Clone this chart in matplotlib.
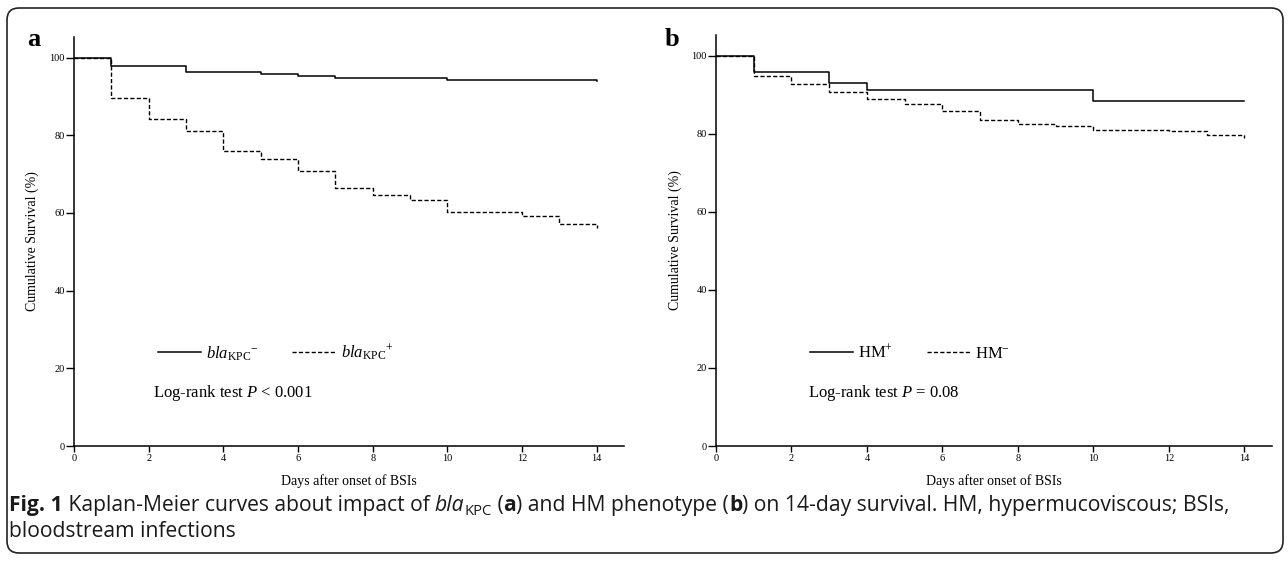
import matplotlib
matplotlib.use('Agg')
import matplotlib.pyplot as plt
from matplotlib.patches import FancyBboxPatch
from matplotlib.transforms import IdentityTransform
from matplotlib.font_manager import FontProperties

# survival steps (day the step starts, cumulative survival %)
kpc_neg_days = [0, 1, 3, 5, 6, 7, 10, 14]
kpc_neg_surv = [100, 97.9, 96.4, 95.9, 95.3, 94.8, 94.3, 93.9]
kpc_pos_days = [0, 1, 2, 3, 4, 5, 6, 7, 8, 9, 10, 12, 13, 14]
kpc_pos_surv = [100, 89.5, 84.3, 81.1, 76.0, 73.9, 70.8, 66.5, 64.6, 63.4, 60.3, 59.1, 57.1, 56.1]

hm_pos_days = [0, 1, 3, 4, 10, 14]
hm_pos_surv = [100, 95.7, 92.9, 91.3, 88.4, 88.4]
hm_neg_days = [0, 1, 2, 3, 4, 5, 6, 7, 8, 9, 10, 12, 13, 14]
hm_neg_surv = [100, 94.9, 92.7, 90.8, 89.0, 87.6, 85.8, 83.4, 82.5, 82.1, 81.0, 80.6, 79.7, 79.0]

x_ticks = [0, 2, 4, 6, 8, 10, 12, 14]
y_ticks = [0, 20, 40, 60, 80, 100]

plt.rcParams['font.family'] = 'Liberation Serif'
plt.rcParams['mathtext.fontset'] = 'custom'
plt.rcParams['mathtext.rm'] = 'Liberation Serif'
plt.rcParams['mathtext.it'] = 'Liberation Serif:italic'
plt.rcParams['mathtext.bf'] = 'Liberation Serif:bold'

fig = plt.figure(figsize=(12.88, 5.61), dpi=100)
W, H = 1288, 561

def px_axes(x0, x1, ytop, ybot):
    return fig.add_axes([x0 / W, (H - ybot) / H, (x1 - x0) / W, (ybot - ytop) / H])

ax1 = px_axes(74, 624, 37, 446)
ax2 = px_axes(716, 1272, 35, 446)

dash = (0, (3, 1.6))
panels = [
    (ax1, 'a', kpc_neg_days, kpc_neg_surv, kpc_pos_days, kpc_pos_surv,
     r'$\mathit{bla}_{\mathrm{KPC}}{}^{-}$', r'$\mathit{bla}_{\mathrm{KPC}}{}^{+}$',
     r'Log-rank test $P$ < 0.001', 0.153, 0.144, -0.063, (-0.073, 0.993)),
    (ax2, 'b', hm_pos_days, hm_pos_surv, hm_neg_days, hm_neg_surv,
     r'HM$^{+}$', r'HM$^{-}$',
     r'Log-rank test $P$ = 0.08', 0.169, 0.165, -0.061, (-0.079, 0.988)),
]

for ax, letter, d1, s1, d2, s2, lab1, lab2, test, lx, tx, ylx, lpos in panels:
    ax.step(d1, s1, where='post', color='black', lw=1.1, label=lab1)
    ax.step(d2, s2, where='post', color='black', lw=1.0, linestyle=dash, label=lab2)
    ax.set_xlim(0, 14.73)
    ax.set_ylim(0, 105.3)
    ax.set_xticks(x_ticks)
    ax.set_yticks(y_ticks)
    for side in ['top', 'right']:
        ax.spines[side].set_visible(False)
    for side in ['left', 'bottom']:
        ax.spines[side].set_linewidth(1.1)
    ax.tick_params(axis='y', length=6, width=1.0, pad=0.5, labelsize=7.5)
    ax.tick_params(axis='x', length=4, width=1.0, pad=1.5, labelsize=7.5)
    ax.set_xlabel('Days after onset of BSIs', fontsize=10, labelpad=8)
    ax.set_ylabel('Cumulative Survival (%)', fontsize=10)
    ax.yaxis.set_label_coords(ylx, 0.5)
    ax.text(lpos[0], lpos[1], letter, transform=ax.transAxes, fontsize=19,
            fontweight='bold', ha='center', va='center')
    ax.legend(loc='center left', bbox_to_anchor=(lx, 0.227), ncol=2, frameon=False,
              fontsize=12, handlelength=2.6, handletextpad=0.3, columnspacing=2.0,
              borderpad=0, borderaxespad=0)
    ax.text(tx, 0.13, test, transform=ax.transAxes, fontsize=12, va='center', ha='left')

# rounded frame around figure
fig.patches.append(FancyBboxPatch((7, 8), 1276, 545, boxstyle='round,pad=0,rounding_size=12',
                                  transform=IdentityTransform(), fill=False,
                                  edgecolor='#222222', lw=1.2))

# caption, written piece by piece
renderer = fig.canvas.get_renderer()

def text_width(s, fp):
    w1 = renderer.get_text_width_height_descent('|' + s + '|', fp, ismath=False)[0]
    w0 = renderer.get_text_width_height_descent('||', fp, ismath=False)[0]
    return w1 - w0

cap_size = 15.2
cap_sub = 10.6
pieces1 = [
    ('Fig. 1', 'bold', 'normal', cap_size, 0),
    (' Kaplan-Meier curves about impact of ', 'normal', 'normal', cap_size, 0),
    ('bla', 'normal', 'italic', cap_size, 0),
    ('KPC', 'normal', 'normal', cap_sub, -4),
    (' (', 'normal', 'normal', cap_size, 0),
    ('a', 'bold', 'normal', cap_size, 0),
    (') and HM phenotype (', 'normal', 'normal', cap_size, 0),
    ('b', 'bold', 'normal', cap_size, 0),
    (') on 14-day survival. HM, hypermucoviscous; BSIs,', 'normal', 'normal', cap_size, 0),
]
x = 9
for s, weight, style, size, dy in pieces1:
    fp = FontProperties(family='Open Sans', weight=weight, style=style, size=size)
    fig.text(x, 50 + dy, s, fontproperties=fp, transform=IdentityTransform(),
             va='baseline', ha='left', color='#1a1a1a')
    x += text_width(s, fp)

fig.text(9, 24, 'bloodstream infections', transform=IdentityTransform(),
         family='Open Sans', fontsize=cap_size, va='baseline', ha='left', color='#1a1a1a')

fig.savefig('out.png', dpi=100)
